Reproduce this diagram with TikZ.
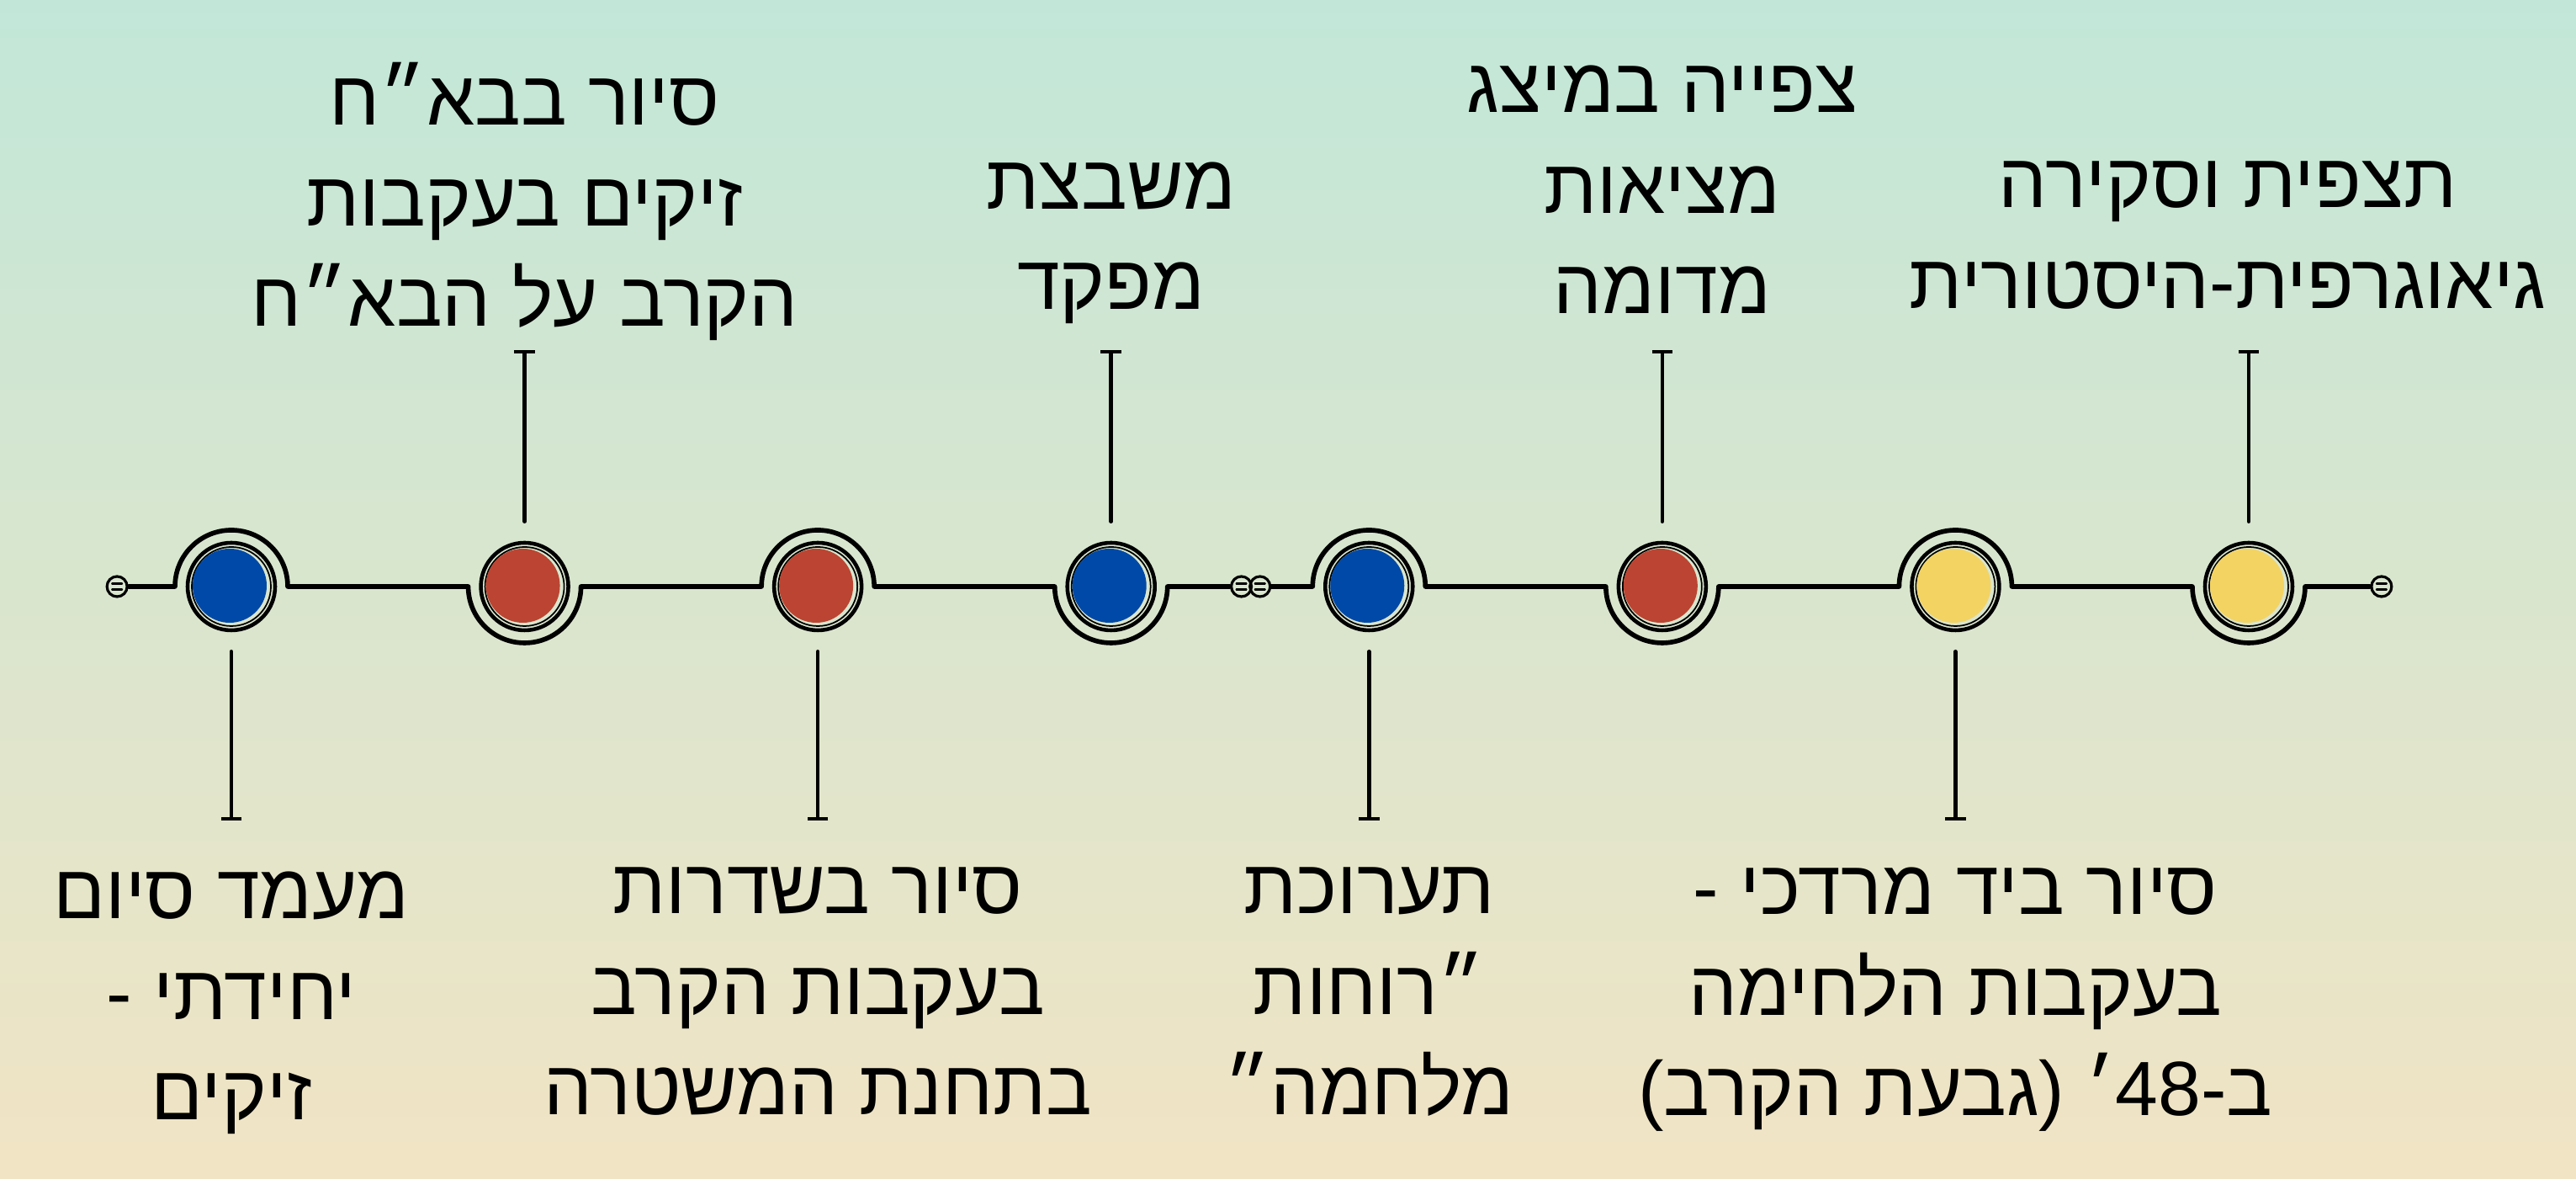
\documentclass[tikz,border=0pt]{standalone}
\usepackage{fontspec}
\newfontfamily\hebfont[Script=Hebrew]{Liberation Sans}
\TeXXeTstate=1
\usetikzlibrary{positioning,calc,arrows.meta}

\definecolor{mint}{RGB}{194,231,216}
\definecolor{haze}{RGB}{216,235,211}
\definecolor{sand}{RGB}{241,228,196}
\definecolor{dotblue}{RGB}{0,73,168}
\definecolor{dotred}{RGB}{187,69,50}
\definecolor{dotyellow}{RGB}{243,211,98}

\newcommand{\rtlline}[1]{\beginR #1\endR}
\newcommand{\bump}{0.67}

\begin{document}
\begin{tikzpicture}
	[line cap=round,line join=round,node distance=2.4cm,
		stop/.style={circle,draw,line width=1.3pt,minimum size=1.04cm,inner sep=0pt,
			path picture={\draw[line width=0.5pt] (path picture bounding box.center) circle (0.47cm);
				\fill[#1] ([shift={(-0.02,0.01)}]path picture bounding box.center) circle (0.44cm);}},
		stud/.style={circle,draw,line width=0.9pt,minimum size=0.24cm,inner sep=0pt,
			path picture={\draw[line width=0.6pt] ([shift={(-0.06,0.035)}]path picture bounding box.center) -- ++(0.12,0)
				([shift={(-0.06,-0.035)}]path picture bounding box.center) -- ++(0.12,0);}},
		tl/.style={line width=1.6pt},
		tick/.style={line width=1.3pt,shorten <=0.23cm,-{Bar[width=7pt]}},
		lbl/.style={font=\hebfont\fontsize{26}{34}\selectfont,align=center,inner sep=0pt}]

	\shade[top color=mint,middle color=haze,bottom color=sand] (0,0) rectangle (30.62,14.01);
	\useasboundingbox (0,0) rectangle (30.62,14.01);

	% stops along the line
	\node[stop=dotblue]   (c1) at (2.75,7.04) {};
	\node[stop=dotred]    (c2) [right=of c1] {};
	\node[stop=dotred]    (c3) [right=of c2] {};
	\node[stop=dotblue]   (c4) [right=of c3] {};
	\node[stop=dotblue]   (c5) [right=1.98cm of c4] {};
	\node[stop=dotred]    (c6) [right=of c5] {};
	\node[stop=dotyellow] (c7) [right=of c6] {};
	\node[stop=dotyellow] (c8) [right=of c7] {};

	\node[stud] (start) [left=0.68cm of c1] {};
	\node[stud] (end)   [right=0.9cm of c8] {};
	\node[stud] (j1)    [right=0.87cm of c4] {};
	\node[stud] (j2)    [right=-0.05cm of j1] {};

	\draw[tl] (start) -- ($(c1)+(-\bump,0)$) arc[start angle=180,end angle=0,radius=\bump cm]
		-- ($(c2)+(-\bump,0)$) arc[start angle=180,end angle=360,radius=\bump cm]
		-- ($(c3)+(-\bump,0)$) arc[start angle=180,end angle=0,radius=\bump cm]
		-- ($(c4)+(-\bump,0)$) arc[start angle=180,end angle=360,radius=\bump cm]
		-- (j1);
	\draw[tl] (j2) -- ($(c5)+(-\bump,0)$) arc[start angle=180,end angle=0,radius=\bump cm]
		-- ($(c6)+(-\bump,0)$) arc[start angle=180,end angle=360,radius=\bump cm]
		-- ($(c7)+(-\bump,0)$) arc[start angle=180,end angle=0,radius=\bump cm]
		-- ($(c8)+(-\bump,0)$) arc[start angle=180,end angle=360,radius=\bump cm]
		-- (end);

	% ticks
	\coordinate[below=2.24cm of c1] (k1);
	\coordinate[above=2.27cm of c2] (k2);
	\coordinate[below=2.24cm of c3] (k3);
	\coordinate[above=2.27cm of c4] (k4);
	\coordinate[below=2.24cm of c5] (k5);
	\coordinate[above=2.27cm of c6] (k6);
	\coordinate[below=2.24cm of c7] (k7);
	\coordinate[above=2.27cm of c8] (k8);
	\draw[tick] (c1) -- (k1);
	\draw[tick] (c2) -- (k2);
	\draw[tick] (c3) -- (k3);
	\draw[tick] (c4) -- (k4);
	\draw[tick] (c5) -- (k5);
	\draw[tick] (c6) -- (k6);
	\draw[tick] (c7) -- (k7);
	\draw[tick] (c8) -- (k8);

	% labels
	\node[lbl,below=0.6cm of k1]  (t1) {\rtlline{מעמד סיום}\\\rtlline{יחידתי -}\\\rtlline{זיקים}};
	\node[lbl,above=0.1cm of k2]  (t2) {\rtlline{סיור בבא״ח}\\\rtlline{זיקים בעקבות}\\\rtlline{הקרב על הבא״ח}};
	\node[lbl,below=0.55cm of k3] (t3) {\rtlline{סיור בשדרות}\\\rtlline{בעקבות הקרב}\\\rtlline{בתחנת המשטרה}};
	\node[lbl,above=0.3cm of k4]  (t4) {\rtlline{משבצת}\\\rtlline{מפקד}};
	\node[lbl,below=0.55cm of k5] (t5) {\rtlline{תערוכת}\\\rtlline{״\kern0pt רוחות}\\\rtlline{מלחמה\kern0pt״}};
	\node[lbl,above=0.42cm of k6] (t6) {\rtlline{צפייה במיצג}\\\rtlline{מציאות}\\\rtlline{מדומה}};
	\node[lbl,below=0.55cm of k7] (t7) {\rtlline{סיור ביד מרדכי -}\\\rtlline{בעקבות הלחימה}\\\rtlline{ב-\beginL 48\endL\kern0pt׳ (גבעת הקרב)}};
	\node[lbl,above=0.48cm of k8,xshift=-0.25cm] (t8) {\rtlline{תצפית וסקירה}\\\rtlline{גיאוגרפית-היסטורית}};

\end{tikzpicture}
\end{document}
